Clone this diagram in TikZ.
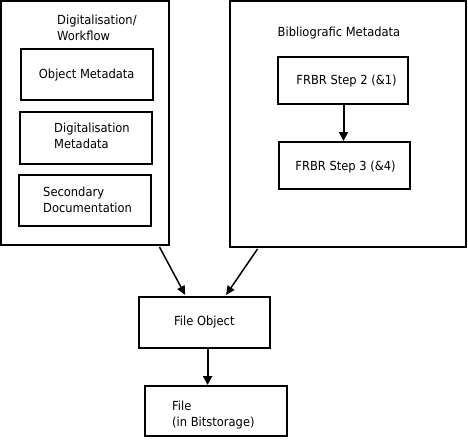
\documentclass[tikz,border=0pt]{standalone}
\usepackage{fontspec}
\setmainfont{DejaVu Sans}[FakeStretch=0.92]
\usetikzlibrary{arrows.meta,fit}
\begin{document}
\begin{tikzpicture}[x=1pt,y=-1pt,
  box/.style={draw, line width=2pt, inner sep=0pt},
  txt/.style={anchor=base west, inner sep=0pt, font=\fontsize{12.5}{15}\selectfont},
  arr/.style={line width=2pt, -{Triangle[length=9pt,width=9pt]}},
  darr/.style={line width=1.5pt, -{Triangle[length=9pt,width=8pt]}}]
\useasboundingbox (0,0) rectangle (468,441);
% left group
\node[box, fit={(1,1)(168.5,245)}] (lbox) {};
\node[txt] (lt1) at (57,25) {Digitalisation/};
\node[txt] (lt2) at (57,40.5) {Workflow};
\node[box, fit={(20.5,49.5)(153,100)}] (om) {};
\node[txt] (omt) at (38.7,79) {Object Metadata};
\node[box, fit={(19.5,112.5)(152,163.5)}] (dm) {};
\node[txt] (dmt1) at (54,132.7) {Digitalisation};
\node[txt] (dmt2) at (54,148.3) {Metadata};
\node[box, fit={(18.5,174.5)(151,225.5)}] (sd) {};
\node[txt] (sdt1) at (43,196) {Secondary};
\node[txt] (sdt2) at (43,212.3) {Documentation};
% right group
\node[box, fit={(230,1)(465.5,246.5)}] (rbox) {};
\node[txt] (rt) at (277.5,36.7) {Bibliografic Metadata};
\node[box, fit={(278,57)(408,104.5)}] (f2) {};
\node[txt] (f2t) at (296.2,85) {FRBR Step 2 (\&1)};
\node[box, fit={(279.3,142)(409.5,188.5)}] (f3) {};
\node[txt] (f3t) at (295.2,170) {FRBR Step 3 (\&4)};
% bottom
\node[box, fit={(138.7,297)(269.5,348)}] (fobj) {};
\node[txt] (fobjt) at (174,325) {File Object};
\node[box, fit={(144.5,386)(286.5,435.5)}] (file) {};
\node[txt] (filet1) at (172,410) {File};
\node[txt] (filet2) at (172,426) {(in Bitstorage)};
% connectors
\coordinate (f2s) at ([xshift=0.5pt]f2.south);
\draw[arr] (f2s) -- (f2s |- f3.north);
\coordinate (fos) at ([xshift=3.5pt]fobj.south);
\draw[arr] (fos) -- (fos |- file.north);
\draw[darr] ([xshift=-10pt,yshift=-1pt]lbox.south east) -- ([xshift=47.5pt,yshift=1pt]fobj.north west);
\draw[darr] ([xshift=28.5pt,yshift=-1.5pt]rbox.south west) -- ([xshift=-44.5pt,yshift=1pt]fobj.north east);
\end{tikzpicture}
\end{document}
